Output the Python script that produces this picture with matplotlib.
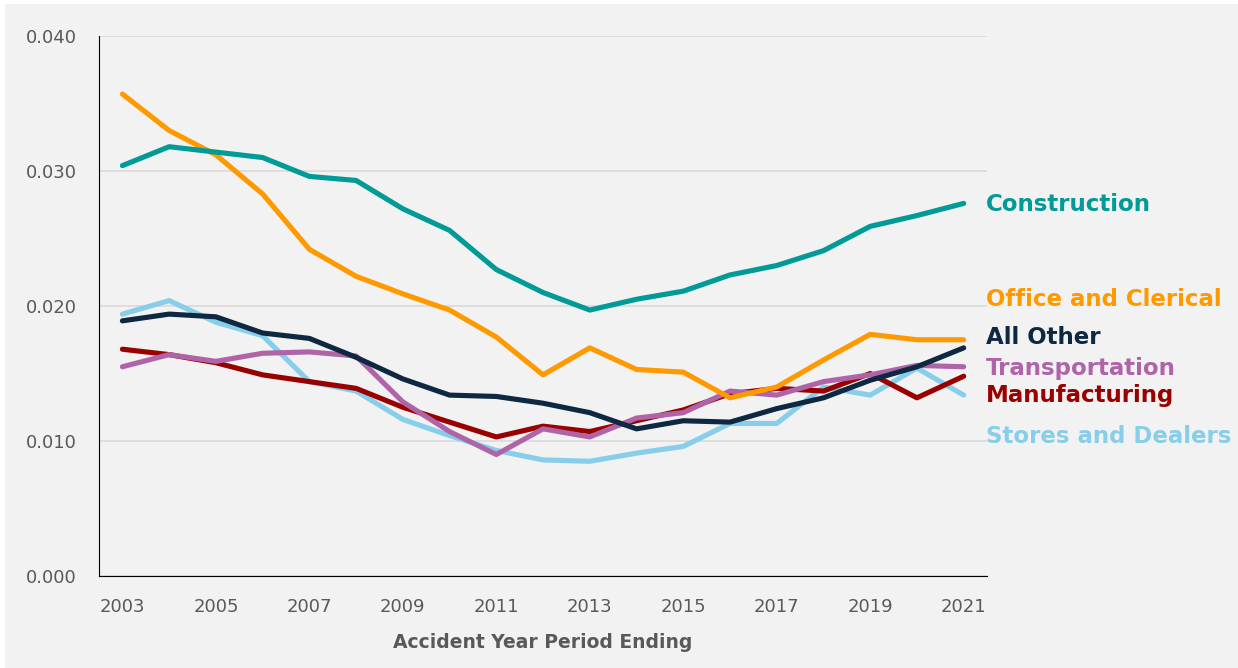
import matplotlib.pyplot as plt
from matplotlib.patches import Rectangle

years = list(range(2003, 2022))

construction = [0.0304, 0.0318, 0.0314, 0.0310, 0.0296, 0.0293, 0.0272, 0.0256, 0.0227, 0.0210,
                0.0197, 0.0205, 0.0211, 0.0223, 0.0230, 0.0241, 0.0259, 0.0267, 0.0276]
office = [0.0357, 0.0330, 0.0312, 0.0283, 0.0242, 0.0222, 0.0209, 0.0197, 0.0177, 0.0149,
          0.0169, 0.0153, 0.0151, 0.0132, 0.0140, 0.0160, 0.0179, 0.0175, 0.0175]
all_other = [0.0189, 0.0194, 0.0192, 0.0180, 0.0176, 0.0162, 0.0146, 0.0134, 0.0133, 0.0128,
             0.0121, 0.0109, 0.0115, 0.0114, 0.0124, 0.0132, 0.0145, 0.0155, 0.0169]
transportation = [0.0155, 0.0164, 0.0159, 0.0165, 0.0166, 0.0163, 0.0129, 0.0107, 0.0090, 0.0109,
                  0.0103, 0.0117, 0.0121, 0.0137, 0.0134, 0.0144, 0.0149, 0.0156, 0.0155]
manufacturing = [0.0168, 0.0164, 0.0158, 0.0149, 0.0144, 0.0139, 0.0125, 0.0114, 0.0103, 0.0111,
                 0.0107, 0.0115, 0.0123, 0.0135, 0.0139, 0.0137, 0.0150, 0.0132, 0.0148]
stores = [0.0194, 0.0204, 0.0188, 0.0178, 0.0144, 0.0137, 0.0116, 0.0104, 0.0093, 0.0086,
          0.0085, 0.0091, 0.0096, 0.0113, 0.0113, 0.0140, 0.0134, 0.0154, 0.0134]

# drawing order (bottom to top) and end-label y positions
series = [
    ("Stores and Dealers", stores, "#87CEEB", 0.0103),
    ("Manufacturing", manufacturing, "#990000", 0.0134),
    ("Transportation", transportation, "#B064A8", 0.0154),
    ("All Other", all_other, "#0E2841", 0.0177),
    ("Office and Clerical", office, "#FF9900", 0.0205),
    ("Construction", construction, "#009A97", 0.0275),
]

bg = "#F2F2F2"
fig = plt.figure(figsize=(12.38, 6.68), dpi=100, facecolor="white")
fig.patches.append(Rectangle((5 / 1238, 0), 1 - 5 / 1238, 1 - 4 / 668, transform=fig.transFigure,
                             facecolor=bg, edgecolor="none", zorder=-10))
ax = fig.add_axes([0.0800, 0.1377, 0.7173, 0.8084])
ax.set_facecolor(bg)

for name, vals, color, ly in series:
    ax.plot(years, vals, color=color, linewidth=3.7, solid_capstyle="round", solid_joinstyle="round")
    ax.text(2021.47, ly, name, color=color, fontsize=16.5, fontweight="bold", family="DejaVu Sans",
            va="center", ha="left")

ax.set_xlim(2002.5, 2021.5)
ax.set_ylim(0, 0.040)
ax.set_xticks(years[::2])
ax.set_yticks([0, 0.01, 0.02, 0.03, 0.04])
ax.set_yticklabels(["0.000", "0.010", "0.020", "0.030", "0.040"])
ax.grid(axis="y", color="#D9D9D9", linewidth=1.2)
ax.set_axisbelow(True)
for s in ["top", "right"]:
    ax.spines[s].set_visible(False)
ax.spines["left"].set_color("black")
ax.spines["bottom"].set_color("black")
ax.tick_params(axis="both", length=0, labelsize=13, colors="#595959")
ax.tick_params(axis="x", pad=16)
ax.tick_params(axis="y", pad=16)
ax.set_xlabel("Accident Year Period Ending", fontsize=13.5, fontweight="bold", color="#595959", labelpad=12)

fig.savefig("out.png", dpi=100, facecolor=fig.get_facecolor())
